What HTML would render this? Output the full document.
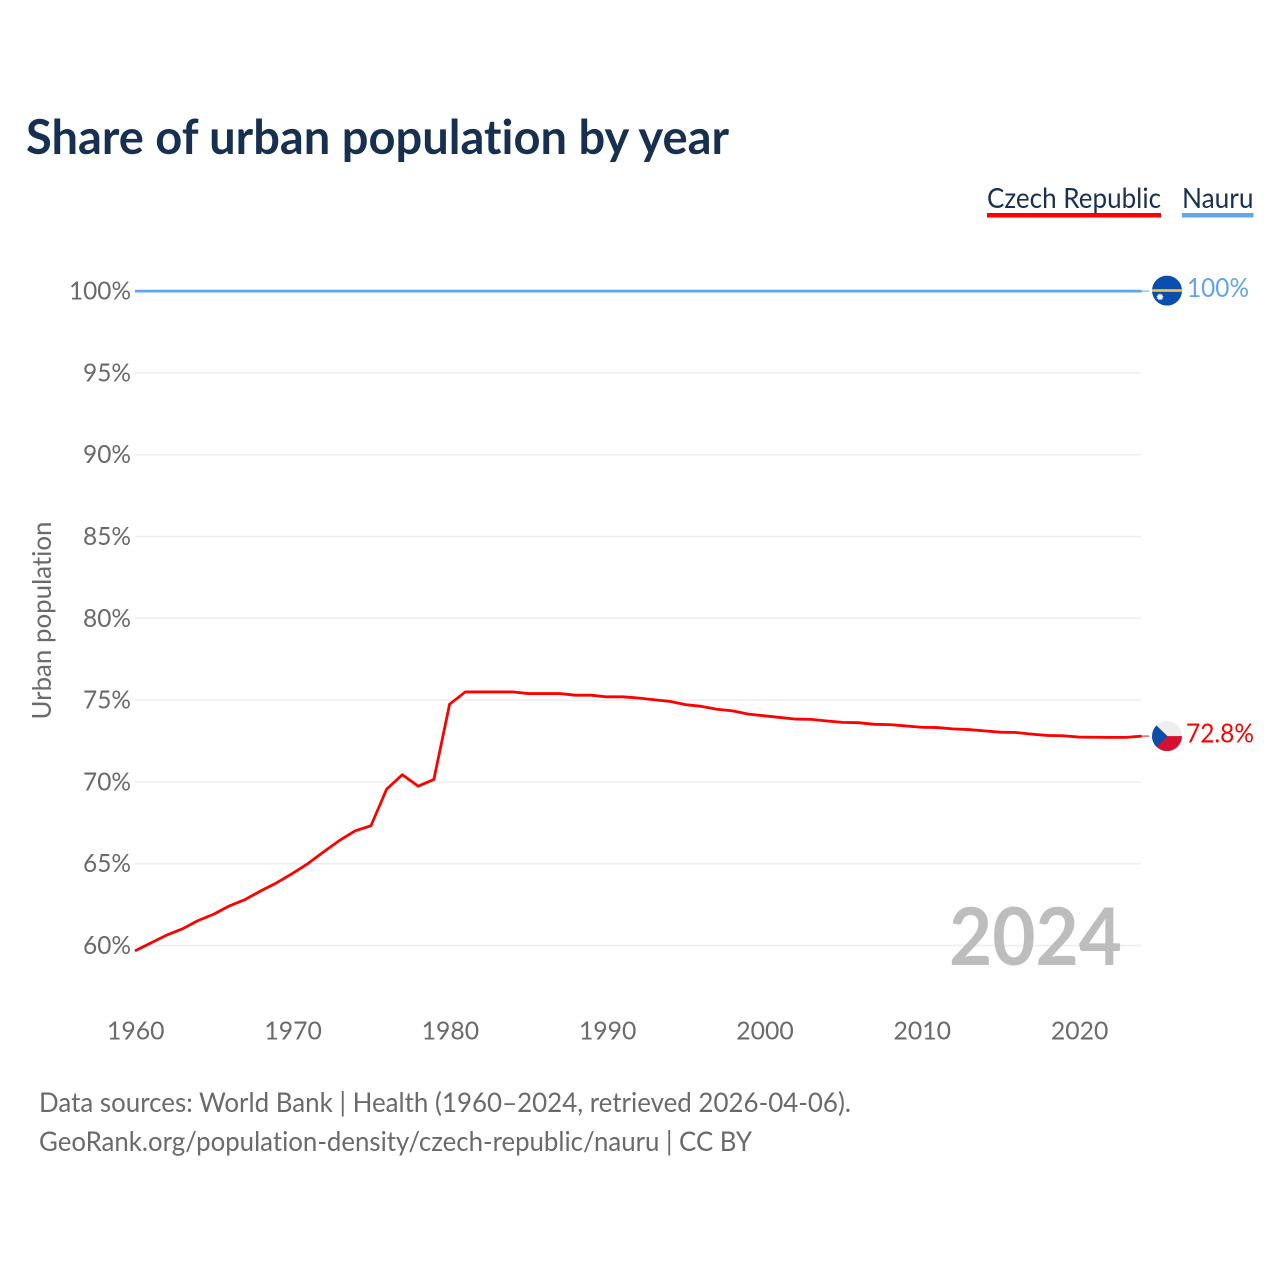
<!DOCTYPE html>
<html lang="en">
<head>
<meta charset="utf-8">
<title>Share of urban population by year</title>
<style>
html,body{margin:0;padding:0;background:#fff;}
svg{display:block;}
text{font-family:"Lato","Carlito","Liberation Sans",sans-serif;font-variant-ligatures:none;}
</style>
</head>
<body>
<svg id="chart" xmlns="http://www.w3.org/2000/svg" width="1280" height="1280" viewBox="0 0 1280 1280">
  <defs>
    <clipPath id="flag-clip"><circle cx="0" cy="0" r="15"></circle></clipPath>
  </defs>
  <rect x="0" y="0" width="1280" height="1280" fill="#ffffff"></rect>
  <text x="26" y="154" font-size="47.5" font-weight="700" fill="#17304f" textLength="703" lengthAdjust="spacingAndGlyphs">Share of urban population by year</text>

  <text x="987" y="208" font-size="28" fill="#1a3050" textLength="174" lengthAdjust="spacingAndGlyphs">Czech Republic</text>
  <rect x="987" y="213" width="174" height="4.5" fill="#ff0000"></rect>
  <text x="1182" y="208" font-size="28" fill="#1a3050" textLength="71.5" lengthAdjust="spacingAndGlyphs">Nauru</text>
  <rect x="1182" y="213" width="71.5" height="4.5" fill="#64a4e8"></rect>

  <g id="grid"></g>
  <g id="y-ticks"></g>
  <g id="x-ticks"></g>
  <text transform="translate(51,719.5) rotate(-90)" x="0" y="0" font-size="26.5" fill="#6a6a6a" textLength="198" lengthAdjust="spacingAndGlyphs">Urban population</text>

  <text x="949" y="965" font-size="80" font-weight="700" fill="#bdbdbd" textLength="173" lengthAdjust="spacingAndGlyphs">2024</text>

  <g id="series"></g>

  <g id="flag-nauru">
    <g clip-path="url(#flag-clip)">
      <rect x="-15" y="-15" width="30" height="30" fill="#0a4fae"></rect>
      <rect x="-15" y="-1.4" width="30" height="2.6" fill="#f5c73f"></rect>
      <polygon points="-7,2.6 -6.2,4.1 -4.7,3.4 -4.9,5 -3.3,5.5 -4.6,6.5 -3.6,7.9 -5.3,8 -5.5,9.6 -7,8.8 -8.5,9.6 -8.7,8 -10.4,7.9 -9.4,6.5 -10.7,5.5 -9.1,5 -9.3,3.4 -7.8,4.1" fill="#f4f4f4"></polygon>
    </g>
  </g>
  <g id="flag-czech">
    <g clip-path="url(#flag-clip)">
      <rect x="-15" y="-15" width="30" height="15" fill="#eeeeee"></rect>
      <rect x="-15" y="0" width="30" height="15" fill="#d7102f"></rect>
      <polygon points="-15,-15 0.5,0 -15,15" fill="#0b4ea8"></polygon>
    </g>
  </g>
  <text id="label-nauru" x="1187" y="297" font-size="26.5" fill="#64a4e8" textLength="62" lengthAdjust="spacingAndGlyphs">100%</text>
  <text id="label-czech" x="1186" y="742" font-size="26.5" fill="#ff0000" textLength="68" lengthAdjust="spacingAndGlyphs">72.8%</text>

  <text x="39" y="1112" font-size="27.5" fill="#6a6a6a" textLength="812" lengthAdjust="spacingAndGlyphs">Data sources: World Bank | Health (1960–2024, retrieved 2026-04-06).</text>
  <text x="39" y="1151" font-size="27.5" fill="#6a6a6a" textLength="713" lengthAdjust="spacingAndGlyphs">GeoRank.org/population-density/czech-republic/nauru | CC BY</text>
</svg>
<script>
const startYear = 1960;
const czechValues = [59.67,60.15,60.63,61.01,61.52,61.91,62.42,62.81,63.34,63.83,64.40,65.01,65.73,66.42,67.01,67.32,69.56,70.44,69.74,70.15,74.75,75.5,75.5,75.5,75.5,75.4,75.4,75.4,75.3,75.3,75.2,75.2,75.13,75.02,74.92,74.72,74.62,74.44,74.34,74.14,74.04,73.94,73.84,73.82,73.72,73.64,73.62,73.52,73.5,73.42,73.34,73.32,73.24,73.2,73.12,73.04,73.02,72.92,72.84,72.82,72.74,72.73,72.72,72.72,72.8];
const nauruValues = [100,100,100,100,100,100,100,100,100,100,100,100,100,100,100,100,100,100,100,100,100,100,100,100,100,100,100,100,100,100,100,100,100,100,100,100,100,100,100,100,100,100,100,100,100,100,100,100,100,100,100,100,100,100,100,100,100,100,100,100,100,100,100,100,100];
const yTickValues = [60,65,70,75,80,85,90,95,100];
const xTickYears = [1960,1970,1980,1990,2000,2010,2020];

const NS = 'http://www.w3.org/2000/svg';
function xScale(year){ return 135 + (year - 1960) * 15.73; }
function yScale(v){ return 945.5 - (v - 60) * 16.36; }
function make(tag, attrs, parent){
  const el = document.createElementNS(NS, tag);
  Object.keys(attrs).forEach(function(k){ el.setAttribute(k, attrs[k]); });
  parent.appendChild(el);
  return el;
}
const gridG = document.getElementById('grid');
const yG = document.getElementById('y-ticks');
const xG = document.getElementById('x-ticks');
const seriesG = document.getElementById('series');

yTickValues.forEach(function(v){
  const line = make('line', {x1:135, x2:1141, y1:yScale(v), y2:yScale(v), stroke:'#eeeeee', 'stroke-width':1.5}, gridG);
  
  
  const t = make('text', {x:131, y:yScale(v)+8.5, 'text-anchor':'end', 'font-size':25.5, fill:'#6a6a6a', textLength: v === 100 ? 62 : 48, lengthAdjust:'spacingAndGlyphs'}, yG);
  
  
  t.textContent = v + '%';
});
xTickYears.forEach(function(y){
  const t = make('text', {x:xScale(y)+0.8, y:1039.5, 'text-anchor':'middle', 'font-size':25.5, fill:'#6a6a6a', textLength:57.5, lengthAdjust:'spacingAndGlyphs'}, xG);
  
  
  t.textContent = y;
});

function points(values){
  return values.map(function(v, i){ return xScale(startYear + i).toFixed(2) + ',' + yScale(v).toFixed(2); }).join(' ');
}
function drawSeries(values, color, name){
  const lastX = xScale(startYear + values.length - 1);
  const lastY = yScale(values[values.length - 1]);
  const c = make('line', {x1:lastX, x2:1149, y1:lastY, y2:lastY, stroke:color, 'stroke-width':1}, seriesG);
  
  
  const p = make('polyline', {points:points(values), fill:'none', stroke:color, 'stroke-width':2.8, 'stroke-linejoin':'round'}, seriesG);
  
  
  return lastY;
}
const yN = drawSeries(nauruValues, '#64a4e8', 'nauru');
const yC = drawSeries(czechValues, '#ff0000', 'czech-republic');
document.getElementById('flag-nauru').setAttribute('transform', 'translate(1167,' + (yN - 0.5) + ')');
document.getElementById('flag-czech').setAttribute('transform', 'translate(1167,' + yC + ')');
document.getElementById('label-nauru').setAttribute('y', yN + 6);
document.getElementById('label-czech').setAttribute('y', yC + 6.5);
</script>
</body>
</html>
